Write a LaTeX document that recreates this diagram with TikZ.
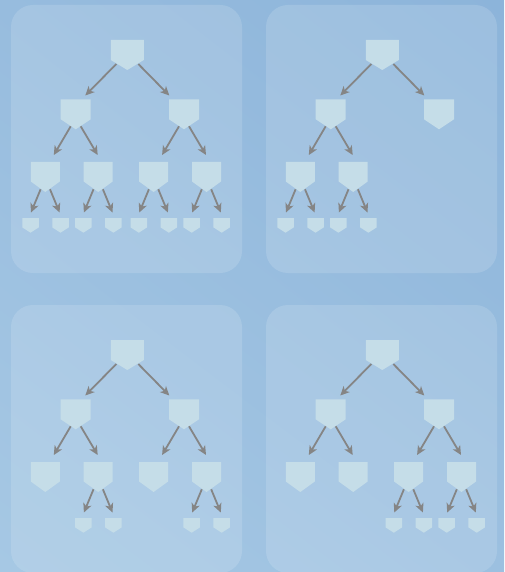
\documentclass[tikz,border=0pt]{standalone}
\usetikzlibrary{arrows.meta,shadings}
\definecolor{nodec}{HTML}{C5DDE8}
\definecolor{arrc}{HTML}{858585}
\definecolor{bgul}{HTML}{97BCDE}
\definecolor{bgur}{HTML}{8CB4DA}
\definecolor{bgll}{HTML}{A6C8E4}
\definecolor{bglr}{HTML}{9CC0E0}
\tikzset{
  panel/.style={fill=white, fill opacity=0.14, rounded corners=22pt},
  pbox/.style={inner sep=0pt, outer sep=0pt},
  arr/.style={draw=arrc, line width=1.8pt, -{Stealth[length=9pt,width=8.5pt,inset=2.5pt]}},
}
% name, cx, top, width, height, tip height
\newcommand\pn[6]{%
  \node[pbox, minimum width=#4pt, minimum height=#5pt] (#1) at (#2, #3+#5/2) {};
  \fill[nodec] (#1.north west) -- (#1.north east) -- ([yshift=#6pt]#1.south east)
    -- (#1.south) -- ([yshift=#6pt]#1.south west) -- cycle;
}
% from, dx, dy (rel. south), to, dx, dy (rel. north)
\newcommand\ar[6]{\draw[arr] ([shift={(#2,#3)}]#1.south) -- ([shift={(#5,#6)}]#4.north);}
\newcommand\treetop[1]{%
  \pn{#1r}{127.3}{40}{33}{30}{10}
  \pn{#1a}{75.7}{99.3}{30}{30}{10}
  \pn{#1b}{184}{99.3}{30}{30}{10}
  \ar{#1r}{-11}{-6}{#1a}{9.6}{-3.8}
  \ar{#1r}{11}{-6}{#1b}{-14.7}{-3.8}
}
% prefix, parent letter, parent cx
\newcommand\lvlthree[3]{%
  \pn{#1#21}{#3-30.4}{162}{29}{30}{10.5}
  \pn{#1#22}{#3+22.5}{162}{29}{30}{10.5}
  \ar{#1#2}{-5}{-3}{#1#21}{8.5}{-7}
  \ar{#1#2}{5}{-3}{#1#22}{-0.5}{-7}
}
% parent name, parent cx
\newcommand\leafpair[2]{%
  \pn{#1l}{#2-14.8}{218}{16.5}{14.7}{5.3}
  \pn{#1r}{#2+15.2}{218}{16.5}{14.7}{5.3}
  \ar{#1}{-4.7}{-2.7}{#1l}{0.5}{-5.5}
  \ar{#1}{4.7}{-2.7}{#1r}{-0.9}{-5.5}
}
\begin{document}
\begin{tikzpicture}[x=1pt,y=-1pt]
\useasboundingbox (0,0) rectangle (504,572);
\shade[upper left=bgul, upper right=bgur, lower left=bgll, lower right=bglr] (0,0) rectangle (504,572);
\fill[panel] (11,5) rectangle (242,273);
\fill[panel] (266,5) rectangle (497,273);
\fill[panel] (11,305) rectangle (242,573);
\fill[panel] (266,305) rectangle (497,573);
% panel 1
\begin{scope}
  \treetop{p1}
  \lvlthree{p1}{a}{75.7}
  \lvlthree{p1}{b}{184}
  \leafpair{p1a1}{45.3}
  \leafpair{p1a2}{98.2}
  \leafpair{p1b1}{153.6}
  \leafpair{p1b2}{206.5}
\end{scope}
% panel 2
\begin{scope}[shift={(255,0)}]
  \treetop{p2}
  \lvlthree{p2}{a}{75.7}
  \leafpair{p2a1}{45.3}
  \leafpair{p2a2}{98.2}
\end{scope}
% panel 3
\begin{scope}[shift={(0,300)}]
  \treetop{p3}
  \lvlthree{p3}{a}{75.7}
  \lvlthree{p3}{b}{184}
  \leafpair{p3a2}{98.2}
  \leafpair{p3b2}{206.5}
\end{scope}
% panel 4
\begin{scope}[shift={(255,300)}]
  \treetop{p4}
  \lvlthree{p4}{a}{75.7}
  \lvlthree{p4}{b}{184}
  \leafpair{p4b1}{153.6}
  \leafpair{p4b2}{206.5}
\end{scope}
\end{tikzpicture}
\end{document}
